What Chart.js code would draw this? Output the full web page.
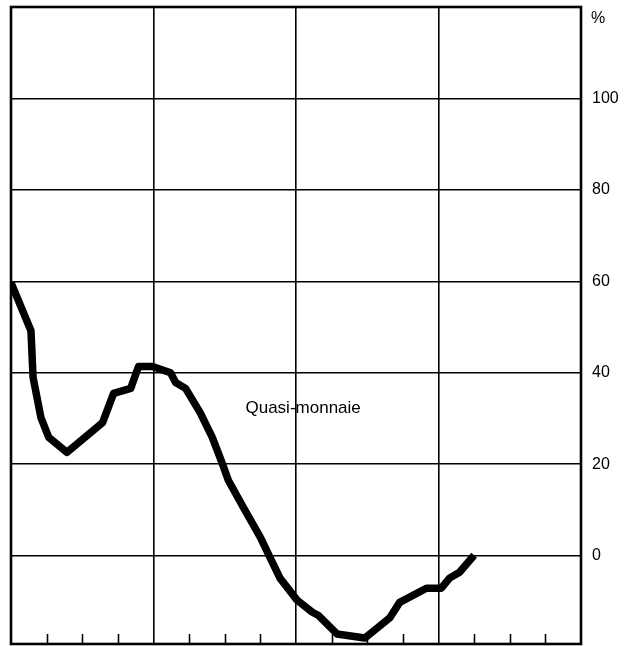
<!DOCTYPE html>
<html>
<head>
<meta charset="utf-8">
<script src="https://cdn.jsdelivr.net/npm/chart.js@4.4.1/dist/chart.umd.min.js"></script>
<style>
html,body{margin:0;padding:0;background:#fff;}
#wrap{width:636px;height:646px;}
</style>
</head>
<body>
<div id="wrap"><canvas id="c" width="636" height="646"></canvas></div>
<script>
// Time position (in quarter units, 0..16) and percent change values
const xPos = [0, 0.56, 0.62, 0.84, 1.06, 1.57, 2.57, 2.88, 3.36, 3.58, 3.97, 4.48, 4.62, 4.9, 5.31, 5.65, 5.93, 6.1, 6.52, 7.0, 7.55, 8.03, 8.45, 8.62, 9.15, 9.93, 10.63, 10.91, 11.66, 12.08, 12.31, 12.59, 13.0];
const yVals = [59.7, 49.2, 39, 30.2, 25.9, 22.6, 29.1, 35.5, 36.6, 41.4, 41.4, 40, 37.9, 36.6, 31.3, 25.9, 20.2, 16.5, 10.6, 4, -4.9, -9.7, -12.3, -13, -17.1, -18, -13.6, -10.2, -7.1, -7.1, -4.9, -3.6, 0.1];
const yTicks = [0, 20, 40, 60, 80, 100];
const xTickCount = 16;
const seriesLabel = "Quasi-monnaie";
const unitLabel = "%";

const points = xPos.map((x, i) => ({x: x, y: yVals[i]}));

const framePlugin = {
  id: 'frame',
  afterDraw(chart) {
    const {ctx, chartArea: a, scales} = chart;
    const xs = scales.x, ys = scales.y;
    ctx.save();
    // inner tick marks along the bottom
    ctx.strokeStyle = '#000';
    ctx.lineWidth = 1.6;
    for (let i = 1; i < xTickCount; i++) {
      if (i % 4 === 0) continue;
      const px = Math.round(xs.getPixelForValue(i)) + 0.5;
      ctx.beginPath();
      ctx.moveTo(px, a.bottom);
      ctx.lineTo(px, a.bottom - 10);
      ctx.stroke();
    }
    // frame
    ctx.lineWidth = 2.6;
    ctx.strokeRect(a.left, a.top, a.right - a.left, a.bottom - a.top);
    // unit label
    ctx.fillStyle = '#000';
    ctx.font = '16px "Liberation Sans", Arial, sans-serif';
    ctx.textAlign = 'left';
    ctx.textBaseline = 'middle';
    ctx.fillText(unitLabel, a.right + 10, ys.getPixelForValue(117.5));
    // series label
    ctx.font = '17px "Liberation Sans", Arial, sans-serif';
    ctx.textAlign = 'center';
    ctx.fillText(seriesLabel, xs.getPixelForValue(8.2), ys.getPixelForValue(32.3));
    ctx.restore();
  }
};

new Chart(document.getElementById('c'), {
  type: 'line',
  data: {
    datasets: [{
      data: points,
      borderColor: '#000',
      borderWidth: 7.5,
      borderJoinStyle: 'round',
      borderCapStyle: 'butt',
      pointRadius: 0,
      tension: 0,
      fill: false
    }]
  },
  options: {
    responsive: false,
    animation: false,
    events: [],
    layout: {padding: {left: 11, top: 7, right: 0, bottom: 2}},
    plugins: {legend: {display: false}, tooltip: {enabled: false}},
    scales: {
      x: {
        type: 'linear',
        min: 0,
        max: 16,
        ticks: {display: false, stepSize: 4},
        afterBuildTicks: (s) => { s.ticks = [4, 8, 12].map(v => ({value: v})); },
        grid: {color: '#000', lineWidth: 1.6, drawTicks: false},
        border: {display: false},
        afterFit: (s) => { s.height = 0; s.paddingLeft = 0; s.paddingRight = 0; }
      },
      y: {
        position: 'right',
        min: -19.3,
        max: 120,
        afterBuildTicks: (s) => { s.ticks = yTicks.map(v => ({value: v})); },
        ticks: {
          color: '#000',
          padding: 11,
          font: {family: '"Liberation Sans", Arial, sans-serif', size: 16}
        },
        grid: {color: '#000', lineWidth: 1.6, drawTicks: false},
        border: {display: false},
        afterFit: (s) => { s.width = 55; s.paddingTop = 0; s.paddingBottom = 0; }
      }
    }
  },
  plugins: [framePlugin]
});
</script>
</body>
</html>
